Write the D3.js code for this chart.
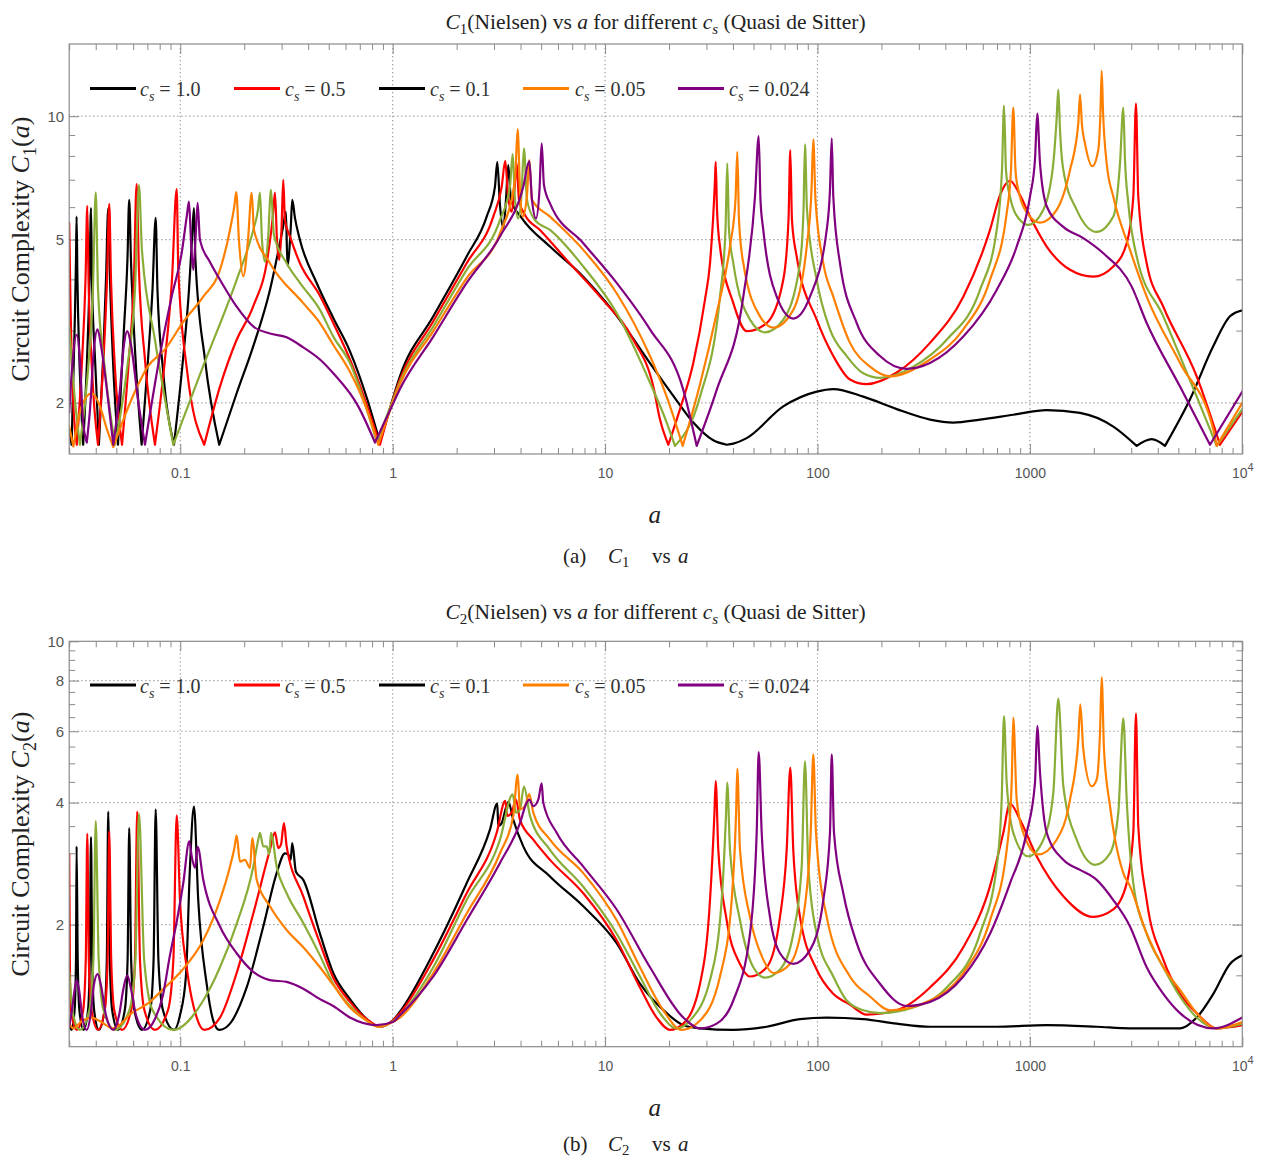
<!DOCTYPE html>
<html>
<head>
<meta charset="utf-8">
<script src="https://cdn.jsdelivr.net/npm/d3@7"></script>
<style>
  body { margin: 0; background: #fff; }
  svg { display: block; }
</style>
</head>
<body>
<svg id="chart" width="1261" height="1159"></svg>
<script>
// ---- legend values (sound speed c_s) ----
const soundSpeeds = ["1.0", "0.5", "0.1", "0.05", "0.024"];

// ---- tick values and labels ----
const xMajorTicks = [0.1, 1, 10, 100, 1000, 10000];
const xTickLabels = ["0.1", "1", "10", "100", "1000", "10^4"];
const c1Ticks = [2, 5, 10];
const c1MinorTicks = [3, 4, 6, 7, 8, 9];
const c2Ticks = [2, 4, 6, 8, 10];
const c2MinorTicks = [1.5, 2.5, 3, 3.5, 4.5, 5, 5.5, 6.5, 7, 7.5, 8.5, 9, 9.5];

// ---- C1(a) series, pairs [a, C1] ----
const c1Cs10 = [[0.0300,1.72],[0.0308,1.58],[0.0318,3.02],[0.0323,4.46],[0.0325,5.69],[0.0328,3.99],[0.0335,2.55],[0.0349,1.58],[0.0364,2.55],[0.0374,3.99],[0.0380,5.97],[0.0384,3.99],[0.0397,2.55],[0.0414,1.58],[0.0433,2.55],[0.0447,3.99],[0.0458,5.96],[0.0467,3.99],[0.0482,2.55],[0.0509,1.58],[0.0543,3.02],[0.0564,4.46],[0.0575,6.25],[0.0586,4.46],[0.0612,2.70],[0.0658,1.58],[0.0705,2.55],[0.0740,3.77],[0.0766,5.65],[0.0781,3.77],[0.0829,2.41],[0.0934,1.58],[0.1030,2.55],[0.1099,3.77],[0.1135,4.99],[0.1160,5.97],[0.1179,4.46],[0.1307,2.55],[0.1526,1.58],[0.1843,2.11],[0.2207,2.75],[0.2644,3.77],[0.3054,5.40],[0.3144,5.84],[0.3196,4.32],[0.3309,5.28],[0.3367,6.25],[0.3467,5.65],[0.3660,4.99],[0.4387,3.92],[0.5252,3.22],[0.6294,2.67],[0.7545,2.06],[0.8716,1.60],[1.0,2.04],[1.082,2.32],[1.553,3.25],[2.230,4.55],[2.771,5.69],[3.031,6.73],[3.108,7.74],[3.200,6.07],[3.317,5.34],[3.415,6.25],[3.501,7.60],[3.606,6.25],[4.049,5.65],[5.504,4.81],[7.895,4.06],[10.17,3.50],[12.64,3.02],[16.27,2.50],[20.95,2.08],[26.02,1.79],[32.32,1.62],[37.37,1.58],[40.15,1.59],[46.42,1.64],[69.02,1.96],[99.13,2.13],[118.7,2.16],[164.3,2.07],[236.0,1.93],[338.6,1.82],[435.9,1.79],[582.4,1.82],[835.2,1.87],[1200,1.92],[1722,1.89],[2470,1.75],[3182,1.57],[3745,1.63],[4326,1.57],[5674,2.04],[7304,2.75],[8751,3.25],[10000,3.36]];
const c1Cs05 = [[0.0300,5.49],[0.0304,3.57],[0.0313,2.04],[0.0326,1.58],[0.0345,2.55],[0.0358,3.99],[0.0365,6.04],[0.0370,3.99],[0.0384,2.41],[0.0410,1.58],[0.0435,2.55],[0.0452,3.99],[0.0463,6.11],[0.0472,3.99],[0.0493,2.41],[0.0532,1.58],[0.0573,2.55],[0.0605,3.99],[0.0623,6.83],[0.0639,4.22],[0.0682,2.55],[0.0760,1.58],[0.0847,2.55],[0.0914,3.99],[0.0962,6.64],[0.0979,4.22],[0.1075,2.41],[0.1297,1.58],[0.1538,2.19],[0.1843,2.85],[0.2207,3.44],[0.2588,4.59],[0.2732,5.74],[0.2792,6.51],[0.2853,4.99],[0.2925,4.46],[0.2996,5.28],[0.3054,6.99],[0.3111,5.58],[0.3284,5.09],[0.3660,4.38],[0.4546,3.65],[0.5252,3.13],[0.6294,2.55],[0.7545,1.98],[0.8716,1.58],[1.0,2.03],[1.082,2.28],[1.553,3.16],[2.230,4.38],[2.976,5.69],[3.260,6.73],[3.389,7.78],[3.490,6.42],[3.633,5.85],[3.745,6.61],[3.835,7.68],[3.932,6.25],[4.196,5.74],[4.938,5.28],[6.596,4.46],[9.462,3.63],[13.58,2.85],[16.87,2.19],[18.14,1.82],[19.85,1.58],[22.53,1.93],[26.02,2.50],[29.54,3.57],[31.19,4.38],[32.92,6.99],[33.18,7.74],[33.65,5.91],[34.75,4.81],[40.15,3.50],[46.42,2.99],[57.66,3.13],[69.02,3.99],[73.03,5.58],[74.46,8.27],[75.84,5.58],[79.80,4.55],[99.13,3.19],[118.7,2.60],[142.2,2.28],[170.5,2.22],[236.0,2.37],[338.6,2.80],[485.9,3.63],[649.0,5.28],[723.2,6.42],[806.0,6.96],[898.3,6.42],[1001,5.69],[1200,4.81],[1545,4.22],[1988,4.06],[2470,4.30],[2856,4.90],[3068,6.36],[3158,10.74],[3238,6.36],[3547,4.38],[4247,3.43],[6100,2.32],[7852,1.58],[10000,1.90]];
const c1Cs01 = [[0.0300,3.07],[0.0319,2.04],[0.0337,1.58],[0.0368,2.41],[0.0388,3.77],[0.0400,6.51],[0.0410,3.77],[0.0442,2.41],[0.0493,1.58],[0.0561,2.41],[0.0612,3.77],[0.0639,6.79],[0.0660,4.72],[0.0760,2.85],[0.0927,1.58],[0.1283,2.46],[0.1843,3.99],[0.2207,5.28],[0.2321,5.91],[0.2372,6.51],[0.2425,4.99],[0.2505,4.42],[0.2588,4.99],[0.2673,6.61],[0.2761,5.13],[0.3169,4.38],[0.3660,3.92],[0.4546,3.37],[0.5252,2.90],[0.6294,2.50],[0.7545,1.93],[0.8410,1.61],[1.0,2.02],[1.082,2.25],[1.553,3.07],[2.230,4.22],[3.200,5.58],[3.566,6.73],[3.673,8.08],[3.765,6.25],[3.902,5.63],[4.040,6.42],[4.151,8.35],[4.289,6.25],[4.677,5.58],[5.504,5.28],[7.895,4.30],[11.34,3.31],[16.27,2.24],[19.50,1.79],[21.34,1.57],[27.99,2.07],[34.75,3.63],[36.89,5.28],[37.61,7.67],[38.31,5.28],[40.15,4.38],[48.11,3.19],[56.60,2.97],[69.02,3.19],[82.74,4.38],[85.93,5.91],[87.33,8.54],[89.25,5.91],[99.13,3.99],[114.5,3.02],[137.3,2.60],[164.3,2.36],[196.9,2.30],[282.5,2.45],[405.8,2.85],[582.4,3.77],[697.8,5.28],[739.0,7.39],[755.2,10.62],[771.7,7.39],[806.0,6.36],[898.3,5.58],[982.9,5.43],[1157,5.91],[1289,7.67],[1335,9.78],[1361,11.61],[1386,9.25],[1437,7.39],[1661,5.91],[2063,5.22],[2470,5.69],[2656,7.67],[2753,10.50],[2804,7.82],[2906,6.13],[3182,4.55],[4247,3.25],[6100,2.07],[7577,1.57],[10000,1.93]];
const c1Cs005 = [[0.0300,1.75],[0.0314,1.565],[0.0343,1.96],[0.0383,2.11],[0.0419,1.96],[0.0449,1.74],[0.0484,1.56],[0.0590,2.04],[0.0707,2.46],[0.0847,2.70],[0.1033,3.15],[0.1283,3.63],[0.1538,4.22],[0.1714,5.28],[0.1800,6.07],[0.1835,6.53],[0.1889,4.99],[0.1980,4.07],[0.2084,4.99],[0.2169,6.50],[0.2223,5.28],[0.2644,4.38],[0.3794,3.50],[0.4546,3.13],[0.5252,2.77],[0.6294,2.38],[0.7545,1.93],[0.8557,1.58],[1.0,2.00],[1.082,2.22],[1.553,2.99],[2.230,4.03],[3.200,5.18],[3.765,6.99],[3.877,9.30],[3.975,6.61],[4.093,5.69],[4.289,6.42],[4.397,7.82],[4.528,6.25],[5.504,5.69],[7.895,4.72],[11.34,3.70],[16.27,2.60],[19.50,2.07],[23.20,1.57],[27.99,2.22],[33.54,3.31],[38.73,4.81],[41.11,6.25],[41.93,8.19],[42.71,5.58],[44.75,4.38],[53.62,3.25],[61.94,3.05],[76.91,3.37],[88.97,4.81],[93.72,6.61],[95.56,8.78],[97.86,6.25],[106.5,4.38],[118.7,3.63],[142.2,2.80],[176.7,2.45],[219.4,2.32],[338.6,2.55],[485.9,3.02],[649.0,3.99],[777.6,5.80],[814.7,7.39],[835.2,10.50],[855.4,7.39],[881.9,6.61],[1001,5.69],[1116,5.50],[1337,5.91],[1545,7.39],[1690,9.60],[1722,11.29],[1759,9.51],[1817,8.58],[1967,7.55],[2099,8.27],[2150,10.3],[2178,12.9],[2209,10.3],[2299,7.67],[2470,6.36],[2960,4.72],[3547,3.63],[5091,2.50],[7304,1.72],[7577,1.57],[10000,2.00]];
const c1Cs0024 = [[0.0300,1.89],[0.0309,2.41],[0.0325,2.93],[0.0337,2.55],[0.0348,1.82],[0.0363,1.60],[0.0376,1.93],[0.0392,2.70],[0.0408,3.02],[0.0423,2.77],[0.0457,2.04],[0.0484,1.58],[0.0520,2.15],[0.0543,2.77],[0.0563,2.99],[0.0586,2.77],[0.0632,2.04],[0.0682,1.58],[0.0817,2.75],[0.0911,3.63],[0.1015,4.63],[0.1075,5.74],[0.1099,6.19],[0.1123,4.99],[0.1151,4.22],[0.1179,4.99],[0.1207,6.15],[0.1238,4.99],[0.1380,4.41],[0.1538,3.99],[0.1843,3.43],[0.2207,3.07],[0.2644,2.95],[0.3169,2.89],[0.3794,2.73],[0.4546,2.55],[0.5252,2.36],[0.6887,1.96],[0.8256,1.60],[1.0,1.98],[1.082,2.16],[1.553,2.90],[2.230,3.92],[3.200,5.09],[4.120,6.73],[4.397,7.77],[4.528,6.25],[4.728,5.63],[4.911,6.61],[5.029,8.58],[5.156,6.79],[5.504,6.13],[7.895,4.90],[11.34,3.92],[16.27,3.02],[23.35,2.15],[27.00,1.57],[33.54,2.15],[44.75,3.63],[50.79,6.36],[52.87,8.94],[53.91,6.25],[55.57,5.28],[64.27,3.63],[76.91,3.21],[92.21,3.63],[110.5,5.28],[114.5,6.61],[116.7,8.83],[118.7,6.36],[127.6,4.38],[153.0,3.13],[196.9,2.60],[263.0,2.42],[338.6,2.50],[485.9,2.90],[697.8,3.77],[866.7,4.81],[1001,6.36],[1057,7.85],[1083,10.15],[1116,7.67],[1200,6.03],[1437,5.37],[1784,5.04],[2216,4.63],[3015,3.84],[3547,3.13],[5091,2.19],[7046,1.58],[10000,2.13]];

// ---- C2(a) series, pairs [a, C2] ----
const c2Cs10 = [[0.0300,1.13],[0.0308,1.10],[0.0318,1.23],[0.0323,1.64],[0.0325,3.12],[0.0329,1.64],[0.0335,1.23],[0.0350,1.10],[0.0368,1.23],[0.0375,1.64],[0.0380,3.29],[0.0385,1.64],[0.0393,1.23],[0.0414,1.10],[0.0440,1.23],[0.0451,1.64],[0.0458,3.80],[0.0466,1.64],[0.0478,1.23],[0.0509,1.10],[0.0548,1.23],[0.0565,1.64],[0.0575,3.46],[0.0587,1.64],[0.0608,1.23],[0.0660,1.10],[0.0722,1.23],[0.0749,1.64],[0.0766,3.85],[0.0789,1.64],[0.0829,1.23],[0.0934,1.10],[0.0997,1.195],[0.1064,1.50],[0.1111,2.78],[0.1160,3.91],[0.1215,2.30],[0.1331,1.43],[0.1430,1.16],[0.1526,1.10],[0.1714,1.14],[0.2054,1.40],[0.2459,1.98],[0.2844,2.68],[0.3111,3.00],[0.3224,2.98],[0.3309,2.89],[0.3367,3.18],[0.3505,2.70],[0.3794,2.58],[0.4546,1.90],[0.5252,1.52],[0.6294,1.31],[0.7545,1.17],[0.8716,1.12],[1.0,1.16],[1.082,1.22],[1.553,1.70],[2.230,2.53],[2.871,3.43],[3.108,3.98],[3.142,3.50],[3.260,3.56],[3.501,4.02],[3.697,3.63],[4.120,3.12],[5.504,2.63],[7.895,2.22],[11.34,1.80],[14.60,1.43],[19.50,1.21],[23.35,1.13],[27.99,1.11],[40.15,1.10],[57.66,1.12],[82.74,1.17],[110.5,1.18],[164.3,1.17],[236.0,1.14],[338.6,1.12],[697.8,1.12],[1200,1.13],[2063,1.12],[2960,1.11],[5091,1.11],[6100,1.18],[7304,1.35],[8751,1.60],[10000,1.68]];
const c2Cs05 = [[0.0300,2.98],[0.0302,1.64],[0.0306,1.23],[0.0326,1.10],[0.0349,1.23],[0.0359,1.64],[0.0365,3.35],[0.0371,1.64],[0.0382,1.23],[0.0410,1.10],[0.0441,1.23],[0.0455,1.64],[0.0463,3.40],[0.0473,1.64],[0.0489,1.23],[0.0532,1.10],[0.0587,1.23],[0.0612,1.64],[0.0627,3.80],[0.0646,1.64],[0.0678,1.23],[0.0760,1.10],[0.0875,1.23],[0.0928,1.64],[0.0962,3.72],[0.0997,2.30],[0.1072,1.57],[0.1195,1.18],[0.1297,1.10],[0.1538,1.18],[0.1843,1.52],[0.2207,2.13],[0.2644,3.06],[0.2792,3.38],[0.2893,3.09],[0.2979,3.15],[0.3077,3.56],[0.3169,3.12],[0.3794,2.35],[0.4546,1.80],[0.5252,1.48],[0.6294,1.29],[0.7545,1.17],[0.8716,1.12],[1.0,1.16],[1.082,1.21],[1.553,1.64],[2.230,2.39],[3.088,3.37],[3.389,4.04],[3.463,3.71],[3.633,3.78],[3.806,4.07],[3.975,3.63],[4.592,3.24],[5.504,2.89],[7.895,2.39],[11.34,1.83],[14.60,1.40],[17.50,1.18],[20.21,1.10],[23.35,1.14],[27.99,1.43],[31.19,2.30],[32.68,3.70],[33.18,4.52],[34.12,3.06],[37.37,2.05],[43.17,1.60],[48.11,1.49],[57.66,1.57],[66.61,2.09],[71.61,3.06],[74.46,4.88],[76.91,3.06],[82.74,2.09],[99.13,1.55],[118.7,1.35],[142.2,1.27],[170.5,1.20],[236.0,1.23],[338.6,1.40],[485.9,1.76],[649.0,2.49],[749.6,3.37],[806.0,3.98],[898.3,3.63],[1076,2.95],[1437,2.35],[1988,2.09],[2470,2.18],[2856,2.53],[3068,3.37],[3158,6.63],[3238,3.50],[3547,2.30],[4247,1.64],[5091,1.35],[6100,1.21],[7577,1.11],[10000,1.13]];
const c2Cs01 = [[0.0300,1.53],[0.0313,1.20],[0.0337,1.10],[0.0373,1.23],[0.0390,1.64],[0.0400,3.60],[0.0413,1.64],[0.0435,1.23],[0.0493,1.10],[0.0576,1.23],[0.0615,1.64],[0.0639,3.76],[0.0676,1.64],[0.0741,1.23],[0.0927,1.10],[0.1283,1.30],[0.1538,1.57],[0.1843,2.01],[0.2207,2.78],[0.2329,3.24],[0.2372,3.37],[0.2459,3.12],[0.2552,3.12],[0.2624,2.98],[0.2673,3.37],[0.2844,2.78],[0.3169,2.39],[0.3794,2.02],[0.4546,1.68],[0.5252,1.43],[0.6294,1.26],[0.7545,1.16],[0.8557,1.12],[1.0,1.155],[1.082,1.195],[1.553,1.57],[2.230,2.30],[3.200,3.24],[3.673,4.19],[3.806,3.78],[3.975,3.85],[4.151,4.38],[4.431,3.71],[5.504,3.06],[7.895,2.48],[11.34,1.90],[14.60,1.49],[18.14,1.21],[21.74,1.11],[25.10,1.16],[31.19,1.46],[35.40,2.30],[37.08,3.71],[37.61,4.48],[38.73,3.06],[43.17,2.05],[49.86,1.57],[56.60,1.48],[66.61,1.55],[76.91,1.90],[84.27,2.78],[87.33,5.06],[90.53,2.78],[99.13,1.90],[118.7,1.49],[137.3,1.30],[164.3,1.23],[196.9,1.21],[282.5,1.25],[405.8,1.40],[582.4,1.90],[697.8,2.78],[736.6,4.07],[755.2,6.54],[777.6,4.48],[835.2,3.37],[982.9,2.95],[1157,3.24],[1289,4.23],[1361,7.22],[1437,4.39],[1661,3.24],[2025,2.81],[2384,3.00],[2608,3.78],[2753,6.46],[2856,4.07],[3068,2.53],[3547,1.90],[4247,1.57],[5091,1.33],[6100,1.18],[7577,1.11],[10000,1.14]];
const c2Cs005 = [[0.0300,1.14],[0.0314,1.11],[0.0343,1.155],[0.0383,1.18],[0.0419,1.155],[0.0484,1.11],[0.0590,1.21],[0.0707,1.28],[0.0847,1.40],[0.1015,1.54],[0.1283,1.83],[0.1538,2.30],[0.1714,2.78],[0.1800,3.10],[0.1843,3.32],[0.1910,2.86],[0.2017,2.89],[0.2129,2.76],[0.2183,3.27],[0.2289,2.58],[0.2644,2.22],[0.3169,1.94],[0.3794,1.76],[0.4546,1.57],[0.5252,1.42],[0.6294,1.25],[0.7545,1.16],[0.8557,1.12],[1.0,1.15],[1.082,1.18],[1.553,1.52],[2.230,2.13],[3.200,3.00],[3.697,3.71],[3.877,4.69],[3.975,3.85],[4.196,3.92],[4.397,4.20],[4.592,3.78],[5.504,3.24],[7.895,2.68],[11.34,2.05],[14.60,1.57],[18.79,1.23],[22.95,1.10],[27.99,1.16],[34.75,1.49],[39.45,2.30],[41.34,3.71],[41.93,4.85],[43.17,3.06],[48.11,2.09],[55.57,1.64],[61.94,1.52],[74.22,1.60],[85.74,2.09],[92.91,3.37],[95.56,5.26],[98.40,3.37],[110.5,2.09],[142.2,1.49],[176.7,1.33],[219.4,1.23],[338.6,1.30],[485.9,1.52],[649.0,2.05],[777.6,3.06],[820.9,4.48],[835.2,6.48],[866.7,4.07],[931.0,3.37],[1095,2.98],[1337,3.24],[1545,4.07],[1690,5.73],[1727,6.99],[1784,5.41],[1954,4.39],[2063,4.56],[2138,5.95],[2178,8.15],[2233,5.41],[2384,3.92],[2753,2.68],[2960,2.49],[3547,1.90],[4247,1.57],[5091,1.38],[6100,1.21],[7577,1.11],[10000,1.15]];
const c2Cs0024 = [[0.0300,1.12],[0.0309,1.23],[0.0318,1.38],[0.0325,1.46],[0.0334,1.38],[0.0345,1.195],[0.0363,1.10],[0.0380,1.22],[0.0392,1.42],[0.0408,1.51],[0.0423,1.42],[0.0447,1.195],[0.0484,1.10],[0.0515,1.195],[0.0540,1.39],[0.0563,1.50],[0.0586,1.39],[0.0619,1.195],[0.0682,1.10],[0.0760,1.17],[0.0829,1.34],[0.0894,1.68],[0.0965,2.05],[0.1033,2.53],[0.1103,3.21],[0.1132,2.95],[0.1173,2.76],[0.1207,3.11],[0.1283,2.58],[0.1538,1.98],[0.1843,1.70],[0.2207,1.53],[0.2644,1.46],[0.3169,1.445],[0.3794,1.39],[0.4546,1.31],[0.5252,1.26],[0.6294,1.18],[0.8410,1.13],[1.0,1.15],[1.082,1.195],[1.553,1.49],[2.230,2.05],[3.200,2.84],[3.975,3.56],[4.274,4.00],[4.397,4.07],[4.592,3.92],[4.848,4.07],[5.029,4.46],[5.117,4.00],[5.917,3.37],[7.895,2.78],[11.34,2.18],[16.27,1.57],[23.35,1.18],[27.99,1.11],[33.54,1.14],[40.15,1.30],[48.11,1.90],[51.73,3.37],[52.87,5.33],[54.62,3.37],[59.75,2.09],[66.61,1.70],[76.91,1.60],[92.21,1.73],[106.5,2.30],[114.5,3.37],[116.7,5.26],[119.6,3.37],[132.3,2.39],[153.0,1.80],[196.9,1.43],[263.0,1.26],[338.6,1.29],[485.9,1.49],[649.0,1.90],[806.0,2.53],[965.9,3.37],[1057,4.48],[1083,6.18],[1116,4.74],[1200,3.37],[1437,2.89],[1722,2.73],[2063,2.58],[2470,2.30],[2960,1.98],[3547,1.57],[4247,1.35],[5091,1.21],[7304,1.11],[10000,1.18]];

// ---- styling ----
const lineColors = ["#000000", "#ff0000", "#8aad38", "#ff8000", "#800080"];
const legendColors = ["#000000", "#ff0000", "#000000", "#ff8000", "#800080"];
const SERIF = "'Liberation Serif', 'DejaVu Serif', serif";
const TICKFONT = "'Liberation Sans Narrow', 'Liberation Sans', Arial, sans-serif";
const FRAME = "#8a8a8a";

const svg = d3.select("#chart");
const PLOT_L = 69.2, PLOT_R = 1242.3;
const x = d3.scaleLog().domain([0.03, 10000]).range([PLOT_L, PLOT_R]);

// writes a run of text pieces (italic / subscript / superscript) into a <text>
function rich(textSel, parts, size, subShift = 0.3) {
  let shift = 0;
  parts.forEach(p => {
    const target = p.sub ? size * subShift : (p.sup ? -size * 0.42 : 0);
    const ts = textSel.append("tspan").text(p.t).attr("dy", target - shift);
    shift = target;
    if (p.x !== undefined) ts.attr("x", p.x);
    if (p.i) ts.attr("font-style", "italic");
    if (p.sub || p.sup) ts.attr("font-size", size * 0.7);
  });
}

// breaks a series at its sharp floor minima so each cusp keeps its corner
function cuspSegments(s, floor) {
  if (!floor) return [s];
  const segs = [];
  let cur = [s[0]];
  for (let i = 1; i < s.length; i++) {
    cur.push(s[i]);
    const isCusp = i < s.length - 1 && s[i][1] < floor &&
      s[i][1] <= s[i - 1][1] && s[i][1] <= s[i + 1][1];
    if (isCusp) { segs.push(cur); cur = [s[i]]; }
  }
  segs.push(cur);
  return segs;
}

const panels = [
  { idx: "1", top: 44, bottom: 454, domain: [1.5, 15], major: c1Ticks, minor: c1MinorTicks, grid: [2, 5, 10],
    series: [c1Cs10, c1Cs05, c1Cs01, c1Cs005, c1Cs0024], cuspFloor: 1.66,
    titleY: 29, legendY: 88.5, xLabelY: 523, captionY: 563, caption: "(a)" },
  { idx: "2", top: 641.3, bottom: 1046.7, domain: [1, 10], major: c2Ticks, minor: c2MinorTicks, grid: [2, 4, 6, 8],
    series: [c2Cs10, c2Cs05, c2Cs01, c2Cs005, c2Cs0024], cuspFloor: null,
    titleY: 619, legendY: 685, xLabelY: 1116, captionY: 1151, caption: "(b)" }
];

const legendSwatchX = [90, 234, 379, 523, 678];
const legendTextX = [140, 285, 430, 575, 729];
const midX = (PLOT_L + PLOT_R) / 2;

panels.forEach((P, pi) => {
  const y = d3.scaleLog().domain(P.domain).range([P.bottom, P.top]);
  const g = svg.append("g");
  const plotH = P.bottom - P.top, plotW = PLOT_R - PLOT_L;

  // title
  const title = g.append("text").attr("x", 655.5).attr("y", P.titleY)
    .attr("text-anchor", "middle").attr("font-family", SERIF).attr("font-size", 21.5).attr("fill", "#222");
  rich(title, [{t: "C", i: true}, {t: P.idx, sub: true}, {t: "(Nielsen) vs "}, {t: "a", i: true},
               {t: " for different "}, {t: "c", i: true}, {t: "s", i: true, sub: true}, {t: " (Quasi de Sitter)"}], 21.5, 0.25);

  // dotted grid lines
  const gridG = g.append("g").attr("stroke", "#9a9a9a").attr("stroke-width", 1.2)
    .attr("stroke-dasharray", "1.3,2.7");
  xMajorTicks.filter(v => v < 10000).forEach(v => {
    gridG.append("line").attr("x1", x(v)).attr("x2", x(v)).attr("y1", P.top).attr("y2", P.bottom);
  });
  P.grid.forEach(v => {
    gridG.append("line").attr("x1", PLOT_L).attr("x2", PLOT_R).attr("y1", y(v)).attr("y2", y(v));
  });

  // axes: ticks drawn inward on all four sides
  const xMinor = x.ticks().filter(v => !xMajorTicks.includes(v));
  const styleAxis = sel => {
    sel.select(".domain").remove();
    sel.selectAll(".tick line").attr("stroke", FRAME).attr("stroke-width", 1);
    sel.selectAll("text").attr("font-family", TICKFONT).attr("font-size", 14).attr("fill", "#555");
  };
  // bottom
  g.append("g").attr("transform", `translate(0,${P.bottom})`)
    .call(d3.axisBottom(x).tickValues(xMinor).tickSize(-6).tickFormat("")).call(styleAxis);
  const xb = g.append("g").attr("transform", `translate(0,${P.bottom})`)
    .call(d3.axisBottom(x).tickValues(xMajorTicks).tickSize(-10).tickPadding(14)
      .tickFormat((d, i) => xTickLabels[i])).call(styleAxis);
  xb.selectAll(".tick text").each(function(d, i) {
    const lab = xTickLabels[i];
    if (lab.includes("^")) {
      const [base, ex] = lab.split("^");
      const t = d3.select(this).text("");
      t.append("tspan").text(base);
      t.append("tspan").text(ex).attr("font-size", 11).attr("dy", -7);
    }
  });
  // top
  g.append("g").attr("transform", `translate(0,${P.top})`)
    .call(d3.axisTop(x).tickValues(xMinor).tickSize(-6).tickFormat("")).call(styleAxis);
  g.append("g").attr("transform", `translate(0,${P.top})`)
    .call(d3.axisTop(x).tickValues(xMajorTicks).tickSize(-10).tickFormat("")).call(styleAxis);
  // left
  g.append("g").attr("transform", `translate(${PLOT_L},0)`)
    .call(d3.axisLeft(y).tickValues(P.minor).tickSize(-6).tickFormat("")).call(styleAxis);
  const yl = g.append("g").attr("transform", `translate(${PLOT_L},0)`)
    .call(d3.axisLeft(y).tickValues(P.major).tickSize(-10).tickPadding(5).tickFormat(d3.format("d"))).call(styleAxis);
  yl.selectAll("text").attr("font-size", 15);
  // right
  g.append("g").attr("transform", `translate(${PLOT_R},0)`)
    .call(d3.axisRight(y).tickValues(P.minor).tickSize(-6).tickFormat("")).call(styleAxis);
  g.append("g").attr("transform", `translate(${PLOT_R},0)`)
    .call(d3.axisRight(y).tickValues(P.major).tickSize(-10).tickFormat("")).call(styleAxis);

  // curves
  const clipId = "clip" + pi;
  svg.append("clipPath").attr("id", clipId).append("rect")
    .attr("x", PLOT_L).attr("y", P.top).attr("width", plotW).attr("height", plotH);
  const line = d3.line().x(d => x(d[0])).y(d => y(d[1])).curve(d3.curveMonotoneX);
  const curves = g.append("g").attr("clip-path", `url(#${clipId})`);
  P.series.forEach((s, si) => {
    const d = cuspSegments(s, P.cuspFloor).map(seg => line(seg)).join("");
    curves.append("path").attr("d", d).attr("fill", "none")
      .attr("stroke", lineColors[si]).attr("stroke-width", 2.2)
      .attr("stroke-linejoin", "round").attr("stroke-linecap", "round");
  });

  // frame
  g.append("rect").attr("x", PLOT_L).attr("y", P.top).attr("width", plotW).attr("height", plotH)
    .attr("fill", "none").attr("stroke", FRAME).attr("stroke-width", 1.2);

  // legend
  soundSpeeds.forEach((v, i) => {
    g.append("line").attr("x1", legendSwatchX[i]).attr("x2", legendSwatchX[i] + 46)
      .attr("y1", P.legendY).attr("y2", P.legendY)
      .attr("stroke", legendColors[i]).attr("stroke-width", 3.2);
    const t = g.append("text").attr("x", legendTextX[i]).attr("y", P.legendY + 7.5)
      .attr("font-family", SERIF).attr("font-size", 20).attr("fill", "#333");
    rich(t, [{t: "c", i: true}, {t: "s", i: true, sub: true}, {t: " = " + v}], 20, 0.25);
  });

  // y-axis title
  const yc = (P.top + P.bottom) / 2;
  const yt = g.append("text").attr("transform", `translate(29,${yc}) rotate(-90)`)
    .attr("text-anchor", "middle").attr("font-family", SERIF).attr("font-size", 26).attr("fill", "#222");
  rich(yt, [{t: "Circuit Complexity "}, {t: "C", i: true}, {t: P.idx, sub: true}, {t: "("}, {t: "a", i: true}, {t: ")"}], 26, 0.25);

  // x-axis title
  g.append("text").attr("x", midX - 1).attr("y", P.xLabelY).attr("text-anchor", "middle")
    .attr("font-family", SERIF).attr("font-size", 25).attr("font-style", "italic").attr("fill", "#222").text("a");

  // caption
  const cap = g.append("text").attr("x", 563).attr("y", P.captionY)
    .attr("font-family", SERIF).attr("font-size", 21).attr("fill", "#222");
  rich(cap, [{t: P.caption, x: 563}, {t: "C", i: true, x: 608}, {t: P.idx, sub: true},
             {t: "vs", x: 652}, {t: "a", i: true, x: 678}], 21, 0.2);
});
</script>
</body>
</html>
